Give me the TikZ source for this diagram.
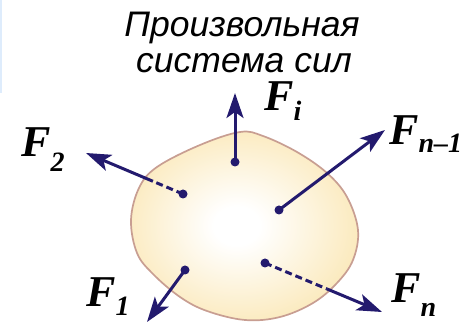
\documentclass[tikz,border=0pt]{standalone}
\usepackage{fontspec}
\setmainfont{Liberation Sans}
\newfontfamily\lblfont{Liberation Serif}
\usetikzlibrary{arrows.meta, calc}

\definecolor{forcecol}{RGB}{35,26,110}
\definecolor{bodyfill}{RGB}{251,234,190}
\definecolor{bodyline}{RGB}{200,158,146}
\definecolor{stripcol}{RGB}{222,236,252}

% light centre, pale yellow rim
\pgfdeclareradialshading{bodyshade}{\pgfpoint{-2bp}{0bp}}{color(0bp)=(white); color(5bp)=(white); color(26bp)=(bodyfill); color(50bp)=(bodyfill)}

% force label: F with a dropped index
\newcommand{\forcelbl}[2]{F\raisebox{-#2}{\fontsize{28}{28}\selectfont #1}}

\begin{document}
\begin{tikzpicture}[
      x=1pt, y=-1pt,
      ttl/.style={font=\fontsize{35.5}{38}\selectfont\itshape, inner sep=0pt, anchor=base},
      lbl/.style={font=\lblfont\fontsize{44}{44}\selectfont\bfseries\itshape,
                  inner sep=0pt, anchor=base west},
      dot/.style={circle, fill=forcecol, inner sep=0pt, minimum size=9pt},
      arr/.style={draw=forcecol, line width=3pt,
                  -{Stealth[length=25pt, width=17pt, inset=6pt]}},
      dsh/.style={draw=forcecol, line width=3pt, dash pattern=on 7pt off 4pt}]

    \useasboundingbox (0,0) rectangle (472,323);
    \fill[stripcol] (0,0) rectangle (1.5,93);

    % ============================================
    % title
    % ============================================
    \node[ttl] (title1) at (242,37) {Произвольная};
    \node[ttl] (title2) at (244,73) {система сил};

    % ============================================
    % body
    % ============================================
    \shadedraw[shading=bodyshade, draw=bodyline, line width=1.7pt]
      plot[smooth cycle, tension=0.6] coordinates {
        (240,132) (263,136) (297,152) (327,173) (347,197) (358,230)
        (353,260) (337,283) (313,303) (280,317) (245,320) (207,311)
        (180,297) (153,274) (137,253) (131,220) (139,188) (157,167)
        (200,145)};

    % ============================================
    % points of application and arrow ends
    % ============================================
    \node[dot] (di) at (235,162) {};
    \node[dot] (d2) at (183,194) {};
    \node[dot] (d1) at (185,270) {};
    \node[dot] (dm) at (279,210) {};
    \node[dot] (dn) at (265,263) {};

    \coordinate (ti) at (235,93);
    \coordinate (t2) at (86,153);
    \coordinate (t1) at (147,322);
    \coordinate (tm) at (385,130);
    \coordinate (tn) at (382,312);

    \coordinate (m2) at ($(d2)!0.31!(t2)$);
    \coordinate (mn) at ($(dn)!0.53!(tn)$);

    \draw[arr] (di.center) -- (ti);
    \draw[dsh] (d2.center) -- (m2);
    \draw[arr] (m2) -- (t2);
    \draw[arr] (d1.center) -- (t1);
    \draw[arr] (dm.center) -- (tm);
    \draw[dsh] (dn.center) -- (mn);
    \draw[arr] (mn) -- (tn);

    % labels
    \node[lbl] (li) at (264,111) {\forcelbl{i}{10pt}};
    \node[lbl] (l2) at (21,157) {\forcelbl{2}{15pt}};
    \node[lbl] (l1) at (86,307) {\forcelbl{1}{9pt}};
    \node[lbl] (lm) at (389,145) {\forcelbl{n–1}{8pt}};
    \node[lbl] (ln) at (391,303) {\forcelbl{n}{14pt}};

\end{tikzpicture}
\end{document}
